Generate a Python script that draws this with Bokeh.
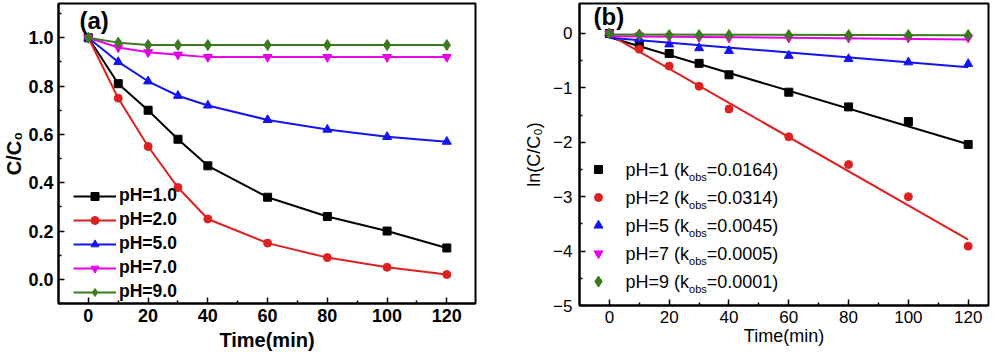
from bokeh.plotting import figure
from bokeh.models import (Range1d, Legend, LegendItem, FixedTicker,
                          PrintfTickFormatter)
from bokeh.layouts import row
from bokeh.embed import file_html
from bokeh.resources import INLINE
from bokeh.core.properties import value

# ---------------- data ----------------
time_min = [0, 10, 20, 30, 40, 60, 80, 100, 120]

labels_a = ["pH=1.0", "pH=2.0", "pH=5.0", "pH=7.0", "pH=9.0"]
c_ph1 = [1.0, 0.81, 0.70, 0.58, 0.47, 0.34, 0.26, 0.20, 0.13]
c_ph2 = [1.0, 0.75, 0.55, 0.38, 0.25, 0.15, 0.09, 0.05, 0.02]
c_ph5 = [1.0, 0.90, 0.82, 0.76, 0.72, 0.66, 0.62, 0.59, 0.57]
c_ph7 = [1.0, 0.96, 0.94, 0.93, 0.92, 0.92, 0.92, 0.92, 0.92]
c_ph9 = [1.0, 0.98, 0.97, 0.97, 0.97, 0.97, 0.97, 0.97, 0.97]

ph_b = ["1", "2", "5", "7", "9"]
k_obs = ["0.0164", "0.0314", "0.0045", "0.0005", "0.0001"]
ln_ph1 = [0.0, -0.20, -0.37, -0.55, -0.76, -1.08, -1.35, -1.62, -2.04]
ln_ph2 = [0.0, -0.29, -0.60, -0.97, -1.39, -1.90, -2.41, -3.00, -3.91]
ln_ph5 = [0.0, -0.11, -0.20, -0.27, -0.32, -0.41, -0.47, -0.53, -0.56]
ln_ph7 = [0.0, -0.04, -0.06, -0.07, -0.08, -0.08, -0.08, -0.08, -0.08]
ln_ph9 = [0.0, -0.02, -0.03, -0.03, -0.03, -0.03, -0.03, -0.03, -0.03]
fit_intercept = [-0.07, -0.02, -0.08, -0.05, -0.02]
fit_time = [0, 120]

colors = ["#000000", "#dd2020", "#1414f0", "#e800e8", "#3b7b1e"]
markers = ["square", "circle", "triangle", "inverted_triangle", "diamond"]
msize = [8, 8, 9, 9, 11]

FONT = "Liberation Sans"


def style(p, bold, tick_px, label_px):
    st = "bold" if bold else "normal"
    for ax in (p.xaxis[0], p.yaxis[0]):
        ax.axis_line_width = 2
        ax.major_tick_in = 6
        ax.major_tick_out = 0
        ax.minor_tick_in = 3
        ax.minor_tick_out = 0
        ax.major_tick_line_width = 1.5
        ax.minor_tick_line_width = 1.5
        ax.major_label_text_font = FONT
        ax.major_label_text_font_size = f"{tick_px}px"
        ax.major_label_text_font_style = st
        ax.major_label_text_color = "black"
        ax.axis_label_text_font = FONT
        ax.axis_label_text_font_size = f"{label_px}px"
        ax.axis_label_text_font_style = st
        ax.axis_label_text_color = "black"
        ax.major_label_standoff = 5
        ax.axis_label_standoff = 3
    p.outline_line_color = "black"
    p.outline_line_width = 2
    p.outline_line_alpha = 1
    p.xgrid.visible = False
    p.ygrid.visible = False
    p.background_fill_color = "white"
    p.border_fill_color = "white"


# ---------------- panel (a) ----------------
FW_A, FH_A = 417, 300
p1 = figure(frame_width=FW_A, frame_height=FH_A,
            min_border_left=58, min_border_right=25,
            min_border_top=3, min_border_bottom=52,
            x_range=Range1d(-10, 129.6), y_range=Range1d(-0.1, 1.142),
            output_backend="svg", toolbar_location=None,
            x_axis_label="Time(min)", y_axis_label="C/C\u2080")
style(p1, True, 18, 20)
p1.xaxis.axis_label_standoff = 4
p1.yaxis.major_label_standoff = 5
p1.yaxis.axis_label_standoff = 0
p1.xaxis.ticker = FixedTicker(ticks=[0, 20, 40, 60, 80, 100, 120],
                              minor_ticks=[10, 30, 50, 70, 90, 110])
p1.yaxis.ticker = FixedTicker(ticks=[0.0, 0.2, 0.4, 0.6, 0.8, 1.0],
                              minor_ticks=[-0.1, 0.1, 0.3, 0.5, 0.7, 0.9, 1.1])
p1.yaxis.formatter = PrintfTickFormatter(format="%.1f")

items = []
for lab, ys, col, mk, ms in zip(labels_a, [c_ph1, c_ph2, c_ph5, c_ph7, c_ph9],
                                colors, markers, msize):
    l = p1.line(time_min, ys, line_color=col, line_width=2)
    s = p1.scatter(time_min, ys, marker=mk, size=ms, fill_color=col,
                   line_color=col)
    items.append(LegendItem(label=lab, renderers=[l, s]))

leg = Legend(items=items, location=(15, 1), padding=0, margin=0,
             glyph_width=43, glyph_height=20, label_height=20, spacing=3,
             label_standoff=3, border_line_color=None,
             background_fill_alpha=0,
             label_text_font=FONT, label_text_font_size="17.5px",
             label_text_font_style="bold", label_text_color="black")
p1.add_layout(leg)

p1.extra_x_ranges = {"px": Range1d(0, FW_A)}
p1.extra_y_ranges = {"py": Range1d(0, FH_A)}
p1.text(x=[21], y=[FH_A - 17], text=["(a)"], x_range_name="px",
        y_range_name="py", text_font=value(FONT), text_font_size="24px",
        text_font_style="bold", text_baseline="middle", text_color="black")

# ---------------- panel (b) ----------------
FW_B, FH_B = 409, 302
p2 = figure(frame_width=FW_B, frame_height=FH_B,
            min_border_left=79, min_border_right=4,
            min_border_top=2, min_border_bottom=51,
            x_range=Range1d(-10, 126.8), y_range=Range1d(-5, 0.55),
            output_backend="svg", toolbar_location=None,
            x_axis_label="Time(min)", y_axis_label="ln(C/C\u2080)")
style(p2, False, 17, 18)
p2.xaxis.axis_label_standoff = 0
p2.yaxis.major_label_standoff = 7
p2.yaxis.axis_label_standoff = 6
p2.xaxis.ticker = FixedTicker(ticks=[0, 20, 40, 60, 80, 100, 120],
                              minor_ticks=[10, 30, 50, 70, 90, 110])
p2.yaxis.ticker = FixedTicker(ticks=[-5, -4, -3, -2, -1, 0],
                              minor_ticks=[-4.5, -3.5, -2.5, -1.5, -0.5])

for ys, b, k, col, mk, ms in zip([ln_ph1, ln_ph2, ln_ph5, ln_ph7, ln_ph9],
                                 fit_intercept, k_obs, colors, markers, msize):
    kv = float(k)
    p2.line(fit_time, [b - kv * t for t in fit_time], line_color=col,
            line_width=2)
    p2.scatter(time_min, ys, marker=mk, size=ms, fill_color=col,
               line_color=col)

# manual legend (b) with subscript
p2.extra_x_ranges = {"px": Range1d(0, FW_B)}
p2.extra_y_ranges = {"py": Range1d(0, FH_B)}
W = {'p': 556, 'H': 722, '=': 584, ' ': 278, '(': 333, ')': 333, 'k': 500,
     'o': 556, 'b': 556, 's': 500, '.': 278}


def tw(s, size):
    return sum(W.get(c, 556) for c in s) * size / 1000.0


MAIN, SUB = 18, 11
LX_MARK, LX_TEXT, LY0, LDY = 19, 46, 24, 28
for i, (ph, k, col, mk, ms) in enumerate(zip(ph_b, k_obs, colors, markers, msize)):
    yr = LY0 + LDY * (4 - i)
    p2.scatter([LX_MARK], [yr], marker=mk, size=ms, fill_color=col,
               line_color=col, x_range_name="px", y_range_name="py")
    t1 = f"pH={ph} (k"
    t2 = "obs"
    t3 = f"={k})"
    x1 = LX_TEXT
    x2 = x1 + tw(t1, MAIN)
    x3 = x2 + tw(t2, SUB)
    p2.text(x=[x1], y=[yr], text=[t1], x_range_name="px", y_range_name="py",
            text_font=value(FONT), text_font_size=f"{MAIN}px",
            text_baseline="middle", text_color="black")
    p2.text(x=[x2], y=[yr - 7], text=[t2], x_range_name="px", y_range_name="py",
            text_font=value(FONT), text_font_size=f"{SUB}px",
            text_baseline="middle", text_color="black")
    p2.text(x=[x3], y=[yr], text=[t3], x_range_name="px", y_range_name="py",
            text_font=value(FONT), text_font_size=f"{MAIN}px",
            text_baseline="middle", text_color="black")

p2.text(x=[14], y=[FH_B - 13], text=["(b)"], x_range_name="px",
        y_range_name="py", text_font=value(FONT), text_font_size="24px",
        text_font_style="bold", text_baseline="middle", text_color="black")

layout = row(p1, p2)
open("out.html", "w").write(file_html(layout, INLINE))
